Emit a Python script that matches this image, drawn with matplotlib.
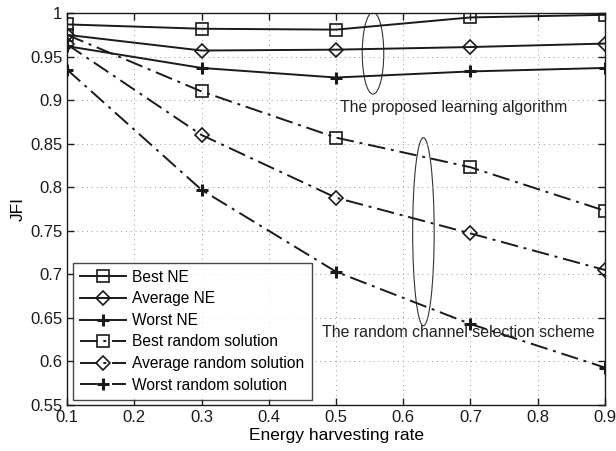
import matplotlib
matplotlib.use("Agg")
import matplotlib.pyplot as plt
from matplotlib.patches import Ellipse
from matplotlib.ticker import FuncFormatter

x = [0.1, 0.3, 0.5, 0.7, 0.9]
best_ne = [0.987, 0.982, 0.981, 0.995, 0.998]
avg_ne = [0.975, 0.957, 0.958, 0.961, 0.965]
worst_ne = [0.962, 0.937, 0.926, 0.933, 0.937]
best_rand = [0.975, 0.910, 0.857, 0.823, 0.773]
avg_rand = [0.964, 0.860, 0.788, 0.747, 0.705]
worst_rand = [0.935, 0.797, 0.703, 0.643, 0.593]

xticks = [0.1, 0.2, 0.3, 0.4, 0.5, 0.6, 0.7, 0.8, 0.9]
yticks = [0.55, 0.6, 0.65, 0.7, 0.75, 0.8, 0.85, 0.9, 0.95, 1.0]

plt.rcParams['font.family'] = ['Liberation Sans', 'DejaVu Sans']
fig = plt.figure(figsize=(6.16, 4.51), dpi=100)
ax = fig.add_axes([0.109, 0.102, 0.873, 0.869])

c = '#1a1a1a'
dd = (0, (9, 3, 1.5, 3))
lw = 1.4
ms = 8
ax.plot(x, best_ne, '-', color=c, lw=lw, marker='s', ms=ms, mfc='none', mec=c, mew=1.2, label='Best NE')
ax.plot(x, avg_ne, '-', color=c, lw=lw, marker='D', ms=7, mfc='none', mec=c, mew=1.2, label='Average NE')
ax.plot(x, worst_ne, '-', color=c, lw=lw, marker='+', ms=9, mec=c, mew=2.2, label='Worst NE')
ax.plot(x, best_rand, linestyle=dd, color=c, lw=lw, marker='s', ms=ms, mfc='none', mec=c, mew=1.2, label='Best random solution')
ax.plot(x, avg_rand, linestyle=dd, color=c, lw=lw, marker='D', ms=7, mfc='none', mec=c, mew=1.2, label='Average random solution')
ax.plot(x, worst_rand, linestyle=dd, color=c, lw=lw, marker='+', ms=9, mec=c, mew=2.2, label='Worst random solution')

ax.add_patch(Ellipse((0.555, 0.954), 0.032, 0.094, fill=False, ec='#333333', lw=0.8))
ax.add_patch(Ellipse((0.63, 0.749), 0.032, 0.216, fill=False, ec='#333333', lw=0.8))
ax.text(0.506, 0.892, 'The proposed learning algorithm', fontsize=11.3, color='#222222', va='center', ha='left')
ax.text(0.479, 0.633, 'The random channel selection scheme', fontsize=11.4, color='#222222', va='center', ha='left')

ax.set_xlim(0.1, 0.9)
ax.set_ylim(0.55, 1.0)
ax.set_xticks(xticks)
ax.set_yticks(yticks)
ax.xaxis.set_major_formatter(FuncFormatter(lambda v, p: '%g' % round(v, 2)))
ax.yaxis.set_major_formatter(FuncFormatter(lambda v, p: '%g' % round(v, 2)))
ax.tick_params(direction='in', top=True, right=True, labelsize=12, length=5, width=1, colors=c)
ax.grid(True, linestyle=(0, (1, 4)), color='#999999', lw=0.7)
for s in ax.spines.values():
    s.set_color(c)
    s.set_linewidth(1.0)
ax.set_xlabel('Energy harvesting rate', fontsize=12.5, labelpad=2)
ax.set_ylabel('JFI', fontsize=12.5, labelpad=3)

leg = ax.legend(loc='lower left', fontsize=11.2, frameon=True, fancybox=False,
                edgecolor=c, handlelength=3.0, handletextpad=0.4, borderpad=0.45,
                labelspacing=0.42, borderaxespad=0.35)
leg.get_frame().set_linewidth(1.0)

fig.savefig('out.png', dpi=100)
